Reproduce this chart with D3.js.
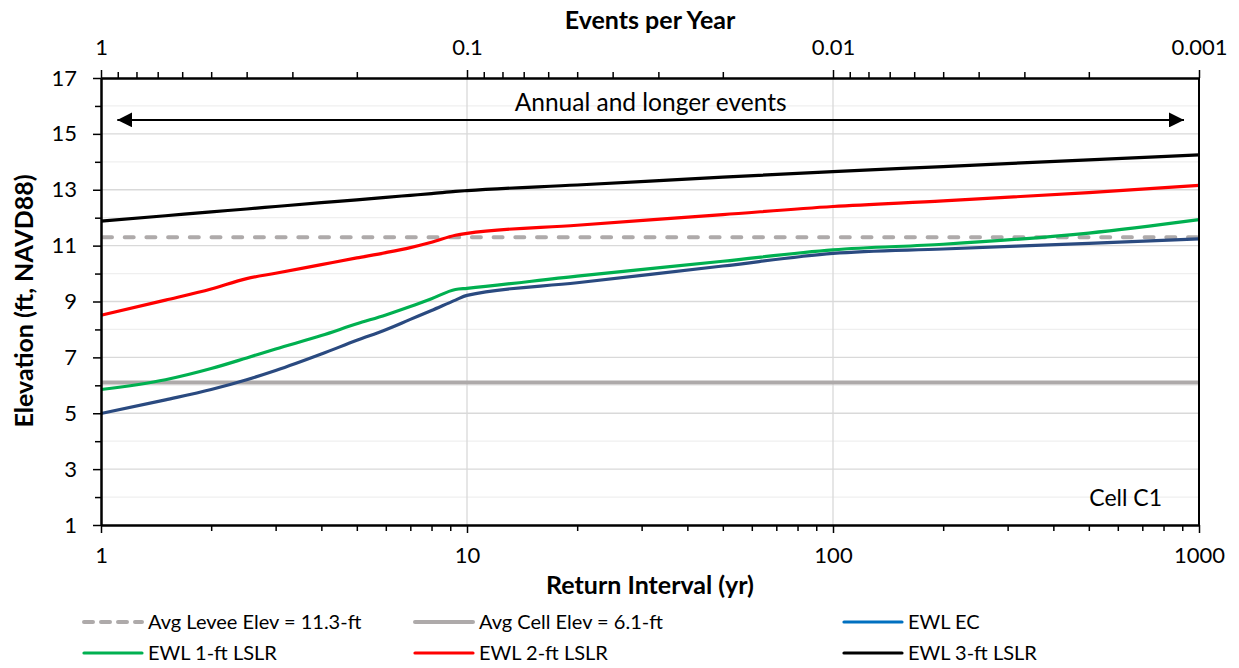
<!DOCTYPE html>
<html>
<head>
<meta charset="utf-8">
<script src="https://cdn.jsdelivr.net/npm/d3@7"></script>
<style>
  body { margin: 0; background: #fff; }
  svg text { font-family: Lato, "Open Sans", sans-serif; fill: #000; }
  .axis path, .axis line { stroke: #000; }
</style>
</head>
<body>
<div id="chart"></div>
<script>
// return interval (yr) at which the curves were read
var returnInterval = [1, 1.5, 2, 2.5, 3, 4, 5, 6, 7, 8, 9.3, 10, 20, 50, 100, 200, 500, 1000];

var ewlEC   = [4.99, 5.48, 5.85, 6.2, 6.53, 7.12, 7.61, 7.99, 8.36, 8.68, 9.05, 9.22, 9.67, 10.27, 10.72, 10.88, 11.08, 11.24];
var ewl1ft  = [5.85, 6.2, 6.6, 6.98, 7.3, 7.78, 8.2, 8.52, 8.82, 9.1, 9.43, 9.47, 9.91, 10.44, 10.85, 11.05, 11.45, 11.93];
var ewl2ft  = [8.51, 9.05, 9.45, 9.82, 10.01, 10.32, 10.56, 10.75, 10.93, 11.12, 11.37, 11.44, 11.73, 12.11, 12.4, 12.6, 12.9, 13.16];
var ewl3ft  = [11.88, 12.07, 12.21, 12.31, 12.4, 12.54, 12.64, 12.73, 12.8, 12.86, 12.94, 12.97, 13.17, 13.45, 13.65, 13.83, 14.07, 14.25];

var leveeElev = 11.3;
var cellElev = 6.1;

var xRange = [1, 1000];
var yTicksMajor = [1, 3, 5, 7, 9, 11, 13, 15, 17];
var yTicksMinor = [2, 4, 6, 8, 10, 12, 14, 16];
var xTicksMajor = [1, 10, 100, 1000];
var topTicksMajor = [1, 0.1, 0.01, 0.001];

var arrowSpan = [1.108, 910];
var arrowLevel = 15.5;

var width = 1239, height = 668;
var plotLeft = 101, plotRight = 1199, plotTop = 78, plotBottom = 525;

var svg = d3.select("#chart").append("svg")
    .attr("width", width)
    .attr("height", height);

var xScale = d3.scaleLog().domain(xRange).range([plotLeft, plotRight]);
var topScale = d3.scaleLog().domain([1, 0.001]).range([plotLeft, plotRight]);
var yScale = d3.scaleLinear().domain([1, 17]).range([plotBottom, plotTop]);

// gridlines
svg.append("g").selectAll("line")
    .data(yTicksMinor).enter().append("line")
    .attr("x1", plotLeft).attr("x2", plotRight)
    .attr("y1", function(d) { return yScale(d); })
    .attr("y2", function(d) { return yScale(d); })
    .attr("stroke", "#efefef").attr("stroke-width", 1.2);

svg.append("g").selectAll("line")
    .data(yTicksMajor.slice(1, -1)).enter().append("line")
    .attr("x1", plotLeft).attr("x2", plotRight)
    .attr("y1", function(d) { return yScale(d); })
    .attr("y2", function(d) { return yScale(d); })
    .attr("stroke", "#d9d9d9").attr("stroke-width", 1.3);

svg.append("g").selectAll("line")
    .data([10, 100]).enter().append("line")
    .attr("y1", plotTop).attr("y2", plotBottom)
    .attr("x1", function(d) { return xScale(d); })
    .attr("x2", function(d) { return xScale(d); })
    .attr("stroke", "#d9d9d9").attr("stroke-width", 1.3);

// horizontal reference lines
svg.append("line")
    .attr("x1", xScale(xRange[0])).attr("x2", xScale(xRange[1]))
    .attr("y1", yScale(cellElev)).attr("y2", yScale(cellElev))
    .attr("stroke", "#aeaaaa").attr("stroke-width", 4);

svg.append("line")
    .attr("x1", xScale(xRange[0]) + 2).attr("x2", xScale(xRange[1]))
    .attr("y1", yScale(leveeElev)).attr("y2", yScale(leveeElev))
    .attr("stroke", "#aeaaaa").attr("stroke-width", 4)
    .attr("stroke-linecap", "round")
    .attr("stroke-dasharray", "9,12.7");

// series
var series = [
  { values: ewl1ft, color: "#00b050" },
  { values: ewl2ft, color: "#ff0000" },
  { values: ewl3ft, color: "#000000" },
  { values: ewlEC,  color: "#2a4a80" }
];

var line = d3.line()
    .x(function(d) { return xScale(d[0]); })
    .y(function(d) { return yScale(d[1]); })
    .curve(d3.curveMonotoneX);

series.forEach(function(s) {
  svg.append("path")
      .datum(d3.zip(returnInterval, s.values))
      .attr("d", line)
      .attr("fill", "none")
      .attr("stroke", s.color)
      .attr("stroke-width", 3.2)
      .attr("stroke-linejoin", "round");
});

// axes
var minorX = xScale.ticks().filter(function(d) { return xTicksMajor.indexOf(d) < 0; });
var minorTop = topScale.ticks().filter(function(d) {
  return topTicksMajor.every(function(m) { return Math.abs(m - d) > 1e-9; });
});

function styleAxis(g) {
  g.attr("class", "axis");
  g.select(".domain").attr("stroke-width", 2);
  g.selectAll(".tick line").attr("stroke-width", 1.5);
  g.selectAll("text").style("font-size", "22px");
}

svg.append("g")
    .attr("transform", "translate(0," + plotBottom + ")")
    .call(d3.axisBottom(xScale).tickValues(minorX).tickSize(6).tickFormat("").tickSizeOuter(0))
    .call(styleAxis);
svg.append("g")
    .attr("transform", "translate(0," + plotBottom + ")")
    .call(d3.axisBottom(xScale).tickValues(xTicksMajor).tickSize(8).tickPadding(14).tickFormat(d3.format("d")).tickSizeOuter(0))
    .call(styleAxis);

svg.append("g")
    .attr("transform", "translate(0," + plotTop + ")")
    .call(d3.axisTop(topScale).tickValues(minorTop).tickSize(6).tickFormat("").tickSizeOuter(0))
    .call(styleAxis);
svg.append("g")
    .attr("transform", "translate(0," + plotTop + ")")
    .call(d3.axisTop(topScale).tickValues(topTicksMajor).tickSize(8).tickPadding(15)
      .tickFormat(function(d) { return String(+d.toFixed(3)); }).tickSizeOuter(0))
    .call(styleAxis);

svg.append("g")
    .attr("transform", "translate(" + plotLeft + ",0)")
    .call(d3.axisLeft(yScale).tickValues(yTicksMinor).tickSize(6).tickFormat("").tickSizeOuter(0))
    .call(styleAxis);
svg.append("g")
    .attr("transform", "translate(" + plotLeft + ",0)")
    .call(d3.axisLeft(yScale).tickValues(yTicksMajor).tickSize(8).tickPadding(16).tickSizeOuter(0))
    .call(styleAxis);

svg.append("line")
    .attr("x1", plotRight).attr("x2", plotRight)
    .attr("y1", plotTop).attr("y2", plotBottom)
    .attr("stroke", "#000").attr("stroke-width", 2);

// axis titles
svg.append("text")
    .attr("x", 650).attr("y", 20).attr("dy", "0.35em")
    .attr("text-anchor", "middle")
    .style("font-size", "25px").style("font-weight", "bold")
    .text("Events per Year");

svg.append("text")
    .attr("x", 650).attr("y", 585).attr("dy", "0.35em")
    .attr("text-anchor", "middle")
    .style("font-size", "25px").style("font-weight", "bold")
    .text("Return Interval (yr)");

svg.append("text")
    .attr("transform", "translate(24,301) rotate(-90)")
    .attr("dy", "0.35em")
    .attr("text-anchor", "middle")
    .style("font-size", "25px").style("font-weight", "bold")
    .text("Elevation (ft, NAVD88)");

// annotation arrow
var defs = svg.append("defs");
defs.append("marker")
    .attr("id", "arrowHead")
    .attr("viewBox", "0 0 10 10")
    .attr("refX", 10).attr("refY", 5)
    .attr("markerWidth", 7.5).attr("markerHeight", 7.5)
    .attr("markerUnits", "strokeWidth")
    .attr("orient", "auto-start-reverse")
    .append("path")
    .attr("d", "M0,0 L10,5 L0,10 Z")
    .attr("fill", "#000");

svg.append("line")
    .attr("x1", xScale(arrowSpan[0])).attr("x2", xScale(arrowSpan[1]))
    .attr("y1", yScale(arrowLevel)).attr("y2", yScale(arrowLevel))
    .attr("stroke", "#000").attr("stroke-width", 2)
    .attr("marker-start", "url(#arrowHead)")
    .attr("marker-end", "url(#arrowHead)");

svg.append("text")
    .attr("x", xScale(Math.sqrt(arrowSpan[0] * arrowSpan[1]))).attr("y", 102).attr("dy", "0.35em")
    .attr("text-anchor", "middle")
    .style("font-size", "24.5px")
    .text("Annual and longer events");

svg.append("text")
    .attr("x", 1162).attr("y", 498).attr("dy", "0.35em")
    .attr("text-anchor", "end")
    .style("font-size", "23px")
    .text("Cell C1");

// legend
var legendItems = [
  { label: "Avg Levee Elev = 11.3-ft", color: "#aeaaaa", dash: true },
  { label: "Avg Cell Elev = 6.1-ft", color: "#aeaaaa" },
  { label: "EWL EC", color: "#0070c0" },
  { label: "EWL 1-ft LSLR", color: "#00b050" },
  { label: "EWL 2-ft LSLR", color: "#ff0000" },
  { label: "EWL 3-ft LSLR", color: "#000000" }
];
var legendCols = [84, 415, 844];
var legendRows = [622, 653];

var legend = svg.append("g").selectAll("g")
    .data(legendItems).enter().append("g")
    .attr("transform", function(d, i) {
      return "translate(" + legendCols[i % 3] + "," + legendRows[Math.floor(i / 3)] + ")";
    });

legend.append("line")
    .attr("x1", 0).attr("x2", 58)
    .attr("stroke", function(d) { return d.color; })
    .attr("stroke-width", function(d) { return d.color === "#aeaaaa" ? 4 : 3.2; })
    .attr("stroke-linecap", "round")
    .attr("stroke-dasharray", function(d) { return d.dash ? "9,8" : null; });

legend.append("text")
    .attr("x", 64).attr("dy", "0.35em")
    .style("font-size", "20px")
    .text(function(d) { return d.label; });
</script>
</body>
</html>
